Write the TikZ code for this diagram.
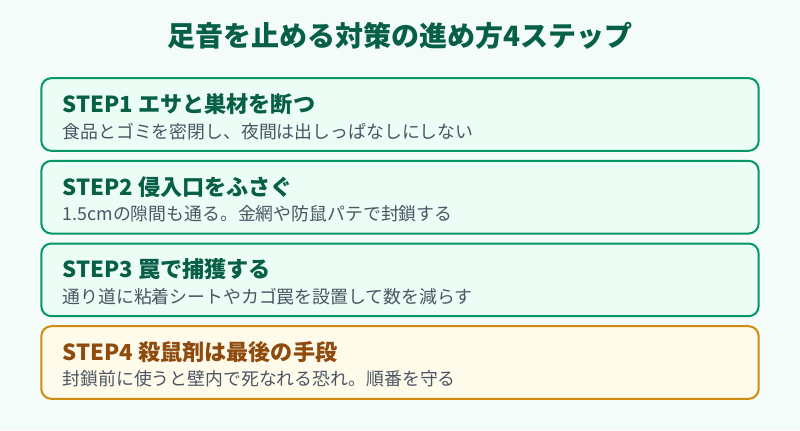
\documentclass[tikz,border=0pt]{standalone}
\usepackage{fontspec}
\setmainfont{Noto Sans CJK JP}
\usetikzlibrary{positioning}
\usepackage{xcolor}

\definecolor{bgmint}{HTML}{F3FCF8}
\definecolor{boxfill}{HTML}{ECFDF5}
\definecolor{boxline}{HTML}{059669}
\definecolor{headgreen}{HTML}{065F46}
\definecolor{subgray}{HTML}{4B5563}
\definecolor{warnfill}{HTML}{FFFBEB}
\definecolor{warnline}{HTML}{D08A0C}
\definecolor{warnhead}{HTML}{8F4A0E}

\tikzset{
  stepbox/.style={draw=boxline, fill=boxfill, line width=1.5pt, rounded corners=7.5pt,
    minimum width=538pt, minimum height=54.5pt, inner sep=0pt},
  warnbox/.style={stepbox, draw=warnline, fill=warnfill},
  title/.style={font=\bfseries\fontsize{21}{25}\selectfont, text=headgreen},
  head/.style={anchor=west, inner sep=0pt, font=\bfseries\fontsize{16.6}{20}\selectfont, text=headgreen},
  sub/.style={anchor=west, inner sep=0pt, font=\fontsize{13.4}{16}\selectfont, text=subgray}
}

\begin{document}
\begin{tikzpicture}[node distance=6pt, x=0.75pt, y=0.75pt]
    \fill[bgmint] (0,0) rectangle (800,-430);
    \node[title] (ttl) at (400,-36) {足音を止める対策の進め方4ステップ};
    % steps
    \node[stepbox] (s1) at (400,-114.5) {};
    \node[stepbox, below=of s1] (s2) {};
    \node[stepbox, below=of s2] (s3) {};
    \node[warnbox, below=of s3] (s4) {};
    \node[head] (h1) at ([shift={(22,-27)}]s1.north west) {STEP1 エサと巣材を断つ};
    \node[sub] (t1) at ([shift={(22,-54)}]s1.north west) {食品とゴミを密閉し、夜間は出しっぱなしにしない};
    \node[head] (h2) at ([shift={(22,-27)}]s2.north west) {STEP2 侵入口をふさぐ};
    \node[sub] (t2) at ([shift={(22,-54)}]s2.north west) {1.5cmの隙間も通る。金網や防鼠パテで封鎖する};
    \node[head] (h3) at ([shift={(22,-27)}]s3.north west) {STEP3 罠で捕獲する};
    \node[sub] (t3) at ([shift={(22,-54)}]s3.north west) {通り道に粘着シートやカゴ罠を設置して数を減らす};
    \node[head, text=warnhead] (h4) at ([shift={(22,-27)}]s4.north west) {STEP4 殺鼠剤は最後の手段};
    \node[sub] (t4) at ([shift={(22,-54)}]s4.north west) {封鎖前に使うと壁内で死なれる恐れ。順番を守る};
\end{tikzpicture}
\end{document}
